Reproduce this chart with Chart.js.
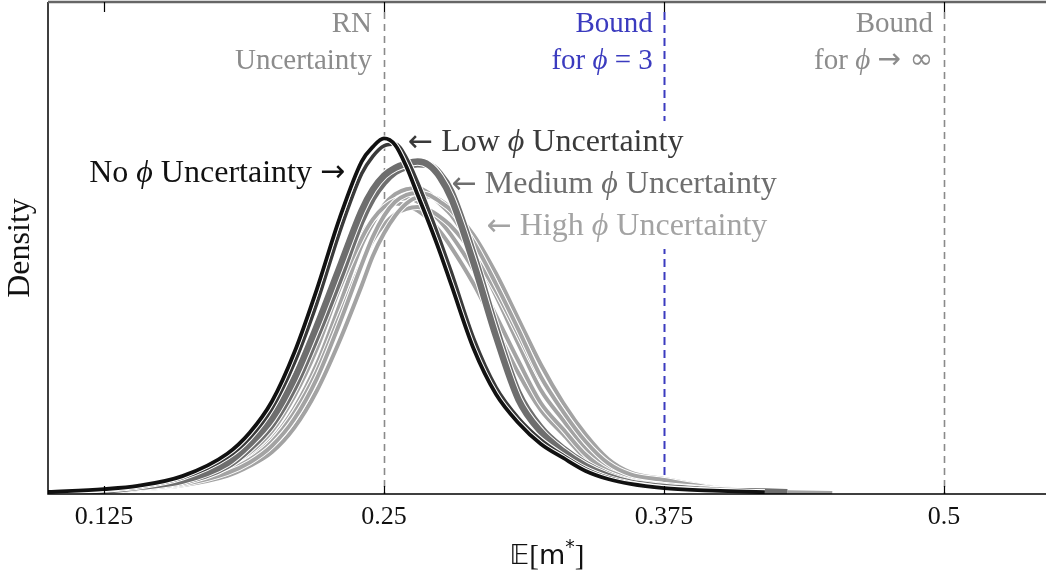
<!DOCTYPE html>
<html>
<head>
<meta charset="utf-8">
<script src="https://cdn.jsdelivr.net/npm/chart.js@4/dist/chart.umd.min.js"></script>
<style>
  html, body { margin: 0; padding: 0; background: #ffffff; }
  #wrap { width: 1046px; height: 577px; position: relative; }
</style>
</head>
<body>
<div id="wrap"><canvas id="c"></canvas></div>
<script>
// ---------- data ----------
const xGrid = [0.10,0.125,0.14,0.16,0.18,0.19,0.20,0.21,0.22,0.23,0.24,0.245,0.25,0.255,0.26,0.265,0.27,0.275,0.28,0.29,0.30,0.31,0.32,0.33,0.34,0.35,0.36,0.375,0.39,0.40,0.42,0.43,0.45];

const noPhi   = [0.06,0.14,0.23,0.51,1.15,1.75,2.65,4.05,5.85,7.85,9.5,9.92,10.16,9.97,9.35,8.55,7.75,6.9,5.98,4.15,2.85,2.03,1.43,1.03,0.66,0.43,0.29,0.17,0.11,0.09,0.05,null,null];
const lowPhi  = [0.05,0.12,0.2,0.46,1.05,1.6,2.45,3.75,5.45,7.45,9.15,9.65,9.95,10.0,9.6,8.9,8.1,7.25,6.35,4.45,3.05,2.17,1.55,1.1,0.72,0.47,0.31,0.18,0.12,0.09,0.05,null,null];
const medPhiA = [0.03,0.1,0.2,0.38,0.88,1.42,2.15,3.3,4.8,6.45,8.1,8.7,9.1,9.32,9.44,9.5,9.4,9.05,8.45,6.6,4.5,2.7,1.78,1.22,0.8,0.51,0.32,0.2,0.13,0.09,0.07,0.05,null];
const medPhiB = [0.03,0.09,0.18,0.35,0.8,1.3,1.98,3.05,4.5,6.1,7.8,8.45,8.9,9.2,9.35,9.42,9.4,9.15,8.65,6.85,4.75,2.9,1.9,1.3,0.86,0.55,0.34,0.22,0.14,0.1,0.07,0.05,null];
const highPhi1 = [0.03,0.09,0.17,0.31,0.69,1.03,1.57,2.45,3.71,5.37,7.11,7.74,8.26,8.57,8.71,8.74,8.6,8.29,7.97,6.94,5.66,4.29,2.97,2.11,1.29,0.74,0.51,0.37,0.21,0.14,0.06,0.05,0.03];
const highPhi2 = [0.02,0.08,0.15,0.28,0.6,0.9,1.38,2.15,3.3,4.85,6.55,7.35,7.95,8.35,8.55,8.6,8.55,8.35,8.1,7.2,6.0,4.7,3.35,2.35,1.5,0.88,0.56,0.4,0.24,0.15,0.07,0.05,0.03];
const highPhi3 = [0.04,0.1,0.19,0.36,0.8,1.18,1.8,2.8,4.15,5.85,7.3,7.85,8.2,8.4,8.45,8.35,8.1,7.8,7.4,6.4,5.1,3.8,2.6,1.85,1.12,0.66,0.47,0.34,0.19,0.12,0.06,0.04,0.02];
const highPhi4 = [0.02,0.07,0.13,0.25,0.52,0.8,1.2,1.9,2.95,4.35,5.95,6.8,7.45,7.95,8.3,8.48,8.5,8.4,8.15,7.4,6.3,5.0,3.7,2.6,1.7,1.0,0.62,0.43,0.26,0.17,0.08,0.06,0.03];
const highPhi5 = [0.04,0.11,0.21,0.4,0.88,1.3,1.98,3.05,4.5,6.15,7.4,7.85,8.15,8.3,8.25,8.1,7.85,7.5,7.05,6.0,4.75,3.45,2.4,1.7,1.02,0.6,0.44,0.32,0.18,0.11,0.05,0.04,0.02];
const highPhi6 = [0.03,0.09,0.16,0.3,0.66,0.98,1.5,2.33,3.5,5.05,6.6,7.25,7.7,8.0,8.15,8.2,8.12,7.92,7.65,6.85,5.8,4.55,3.3,2.4,1.55,0.9,0.58,0.41,0.24,0.15,0.07,0.05,0.03];

const tickValues = [0.125, 0.25, 0.375, 0.5];
const tickLabels = ['0.125', '0.25', '0.375', '0.5'];
const refLineValues = [0.25, 0.375, 0.5];

// ---------- styles ----------
const C_NO = '#111111', C_LOW = '#3a3a3a', C_MED = '#6e6e6e', C_HIGH = '#a3a3a3';
const C_GRAY_TXT = '#8c8c8c', C_BLUE = '#3b3bbf';
const SERIF = "'Liberation Serif', 'DejaVu Serif', serif";
const ARROWF = '"DejaVu Sans", sans-serif';

// listed bottom-most first
const seriesList = [
  {data: highPhi1, color: C_HIGH, w: 4},
  {data: highPhi5, color: C_HIGH, w: 4},
  {data: highPhi3, color: C_HIGH, w: 4},
  {data: highPhi6, color: C_HIGH, w: 4},
  {data: highPhi4, color: C_HIGH, w: 4},
  {data: highPhi2, color: C_HIGH, w: 4},
  {data: medPhiB, color: C_MED, w: 6.5},
  {data: medPhiA, color: C_MED, w: 6.5},
  {data: lowPhi, color: C_LOW, w: 3.6},
  {data: noPhi, color: C_NO, w: 3.8}
];

const mkPts = (arr) => xGrid.map((x, i) => ({x: x, y: arr[i]}));
const paintOrder = [];
seriesList.forEach(s => {
  paintOrder.push({data: mkPts(s.data), borderColor: '#ffffff', borderWidth: s.w + 2, pointRadius: 0,
    cubicInterpolationMode: 'monotone', spanGaps: false});
  paintOrder.push({data: mkPts(s.data), borderColor: s.color, borderWidth: s.w, pointRadius: 0,
    cubicInterpolationMode: 'monotone', spanGaps: false});
});
// Chart.js paints the last dataset first, so reverse to get the wanted stacking
const datasets = paintOrder.slice().reverse();

const refLineStyles = [
  {color: '#8a8a8a', width: 1.6, dash: [7, 5]},
  {color: C_BLUE, width: 2, dash: [8, 5]},
  {color: '#8a8a8a', width: 1.6, dash: [7, 5]}
];

// rich text labels: each part = [text, kind]; kind: r = roman, i = italic, a = arrow/symbol
const topTexts = [
  {parts: [['RN','r']], x: 0.2446, y: 13.43, align: 'right', color: C_GRAY_TXT},
  {parts: [['Uncertainty','r']], x: 0.2446, y: 12.37, align: 'right', color: C_GRAY_TXT},
  {parts: [['Bound','r']], x: 0.3700, y: 13.43, align: 'right', color: C_BLUE},
  {parts: [['for ','r'],['ϕ','i'],[' = 3','r']], x: 0.3700, y: 12.37, align: 'right', color: C_BLUE},
  {parts: [['Bound','r']], x: 0.4951, y: 13.43, align: 'right', color: C_GRAY_TXT},
  {parts: [['for ','r'],['ϕ','i'],[' ','r'],['→','a'],[' ∞','a']], x: 0.4951, y: 12.37, align: 'right', color: C_GRAY_TXT}
];
const curveTexts = [
  {parts: [['No ','r'],['ϕ','i'],[' Uncertainty ','r'],['→','a']], x: 0.2326, y: 9.17, align: 'right', color: C_NO, box: false},
  {parts: [['←','a'],[' Low ','r'],['ϕ','i'],[' Uncertainty','r']], x: 0.2607, y: 10.03, align: 'left', color: C_LOW, box: true},
  {parts: [['←','a'],[' Medium ','r'],['ϕ','i'],[' Uncertainty','r']], x: 0.2802, y: 8.83, align: 'left', color: C_MED, box: true},
  {parts: [['←','a'],[' High ','r'],['ϕ','i'],[' Uncertainty','r']], x: 0.2958, y: 7.63, align: 'left', color: C_HIGH, box: true}
];

function fontFor(kind, size) {
  if (kind === 'i') return 'italic ' + size + 'px ' + SERIF;
  if (kind === 'a') return Math.round(size * 0.95) + 'px ' + ARROWF;
  return size + 'px ' + SERIF;
}
function measureRich(ctx, parts, size) {
  let w = 0;
  parts.forEach(p => { ctx.font = fontFor(p[1], size); w += ctx.measureText(p[0]).width; });
  return w;
}
function drawRich(ctx, item, size, px, py) {
  const w = measureRich(ctx, item.parts, size);
  let cur = item.align === 'right' ? px - w : px;
  ctx.textAlign = 'left'; ctx.textBaseline = 'middle'; ctx.fillStyle = item.color;
  item.parts.forEach(p => {
    ctx.font = fontFor(p[1], size);
    ctx.fillText(p[0], cur, py);
    cur += ctx.measureText(p[0]).width;
  });
}

const TOP_SIZE = 29, CURVE_SIZE = 32;

const decor = {
  id: 'decor',
  beforeDatasetsDraw(chart) {
    const {ctx, chartArea: a, scales: {x, y}} = chart;
    ctx.save();
    refLineValues.forEach((v, i) => {
      const st = refLineStyles[i];
      const px = Math.round(x.getPixelForValue(v)) + 0.5;
      ctx.strokeStyle = st.color; ctx.lineWidth = st.width; ctx.setLineDash(st.dash);
      ctx.beginPath(); ctx.moveTo(px, a.top + 10); ctx.lineTo(px, a.bottom); ctx.stroke();
    });
    ctx.setLineDash([]);
    curveTexts.forEach(t => {
      if (!t.box) return;
      const w = measureRich(ctx, t.parts, CURVE_SIZE);
      const px = x.getPixelForValue(t.x), py = y.getPixelForValue(t.y);
      ctx.fillStyle = '#ffffff';
      ctx.fillRect(px - 4, py - 22, w + 8, 44);
    });
    ctx.restore();
  },
  afterDatasetsDraw(chart) {
    const {ctx, chartArea: a, scales: {x, y}} = chart;
    ctx.save();
    topTexts.forEach(t => drawRich(ctx, t, TOP_SIZE, x.getPixelForValue(t.x), y.getPixelForValue(t.y)));
    curveTexts.forEach(t => drawRich(ctx, t, CURVE_SIZE, x.getPixelForValue(t.x), y.getPixelForValue(t.y)));
    // frame
    ctx.strokeStyle = '#000000'; ctx.lineWidth = 1.5;
    ctx.beginPath();
    ctx.moveTo(a.left, a.top); ctx.lineTo(a.left, a.bottom); ctx.lineTo(a.right, a.bottom);
    ctx.stroke();
    ctx.strokeStyle = '#666666'; ctx.lineWidth = 2.5;
    ctx.beginPath(); ctx.moveTo(a.left, a.top); ctx.lineTo(a.right, a.top); ctx.stroke();
    // inward ticks
    ctx.strokeStyle = '#000000'; ctx.lineWidth = 1.2;
    tickValues.forEach(v => {
      const px = Math.round(x.getPixelForValue(v)) + 0.5;
      ctx.beginPath(); ctx.moveTo(px, a.top); ctx.lineTo(px, a.top + 10); ctx.stroke();
      ctx.beginPath(); ctx.moveTo(px, a.bottom); ctx.lineTo(px, a.bottom - 8); ctx.stroke();
    });
    // x axis title: 𝔼[m*]
    const cx = (a.left + a.right) / 2, ty = 557;
    const parts = [
      {t: '𝔼', f: '27px "DejaVu Sans", sans-serif', dy: 0},
      {t: '[', f: '29px ' + SERIF, dy: 0},
      {t: 'm', f: '27px "DejaVu Sans", sans-serif', dy: 0},
      {t: '*', f: '19px "DejaVu Sans", sans-serif', dy: -9},
      {t: ']', f: '29px ' + SERIF, dy: 0}
    ];
    let total = 0;
    parts.forEach(p => { ctx.font = p.f; p.w = ctx.measureText(p.t).width; total += p.w; });
    let cur = cx - total / 2;
    ctx.fillStyle = '#111111'; ctx.textAlign = 'left'; ctx.textBaseline = 'middle';
    parts.forEach(p => { ctx.font = p.f; ctx.fillText(p.t, cur, ty + p.dy); cur += p.w; });
    ctx.restore();
  }
};

new Chart(document.getElementById('c'), {
  type: 'line',
  data: {datasets: datasets},
  options: {
    responsive: true,
    maintainAspectRatio: false,
    animation: false,
    devicePixelRatio: 1,
    layout: {padding: {top: 2, left: 0, right: 0, bottom: 0}},
    plugins: {legend: {display: false}, tooltip: {enabled: false}},
    scales: {
      x: {
        type: 'linear', min: 0.1, max: 0.5455,
        grid: {display: false, drawTicks: false},
        border: {display: false},
        afterBuildTicks: (s) => { s.ticks = tickValues.map(v => ({value: v})); },
        afterFit: (s) => { s.height = 83; },
        ticks: {
          padding: 8, color: '#111111', maxRotation: 0, autoSkip: false,
          font: {family: SERIF, size: 26},
          callback: (v) => tickLabels[tickValues.indexOf(v)] ?? ''
        }
      },
      y: {
        type: 'linear', min: 0, max: 14.06,
        grid: {display: false, drawTicks: false},
        border: {display: false},
        ticks: {display: false},
        afterFit: (s) => { s.width = 48; },
        title: {display: true, text: 'Density', color: '#111111',
          font: {family: SERIF, size: 32}, padding: {top: 1, bottom: 0}}
      }
    }
  },
  plugins: [decor]
});
</script>
</body>
</html>
